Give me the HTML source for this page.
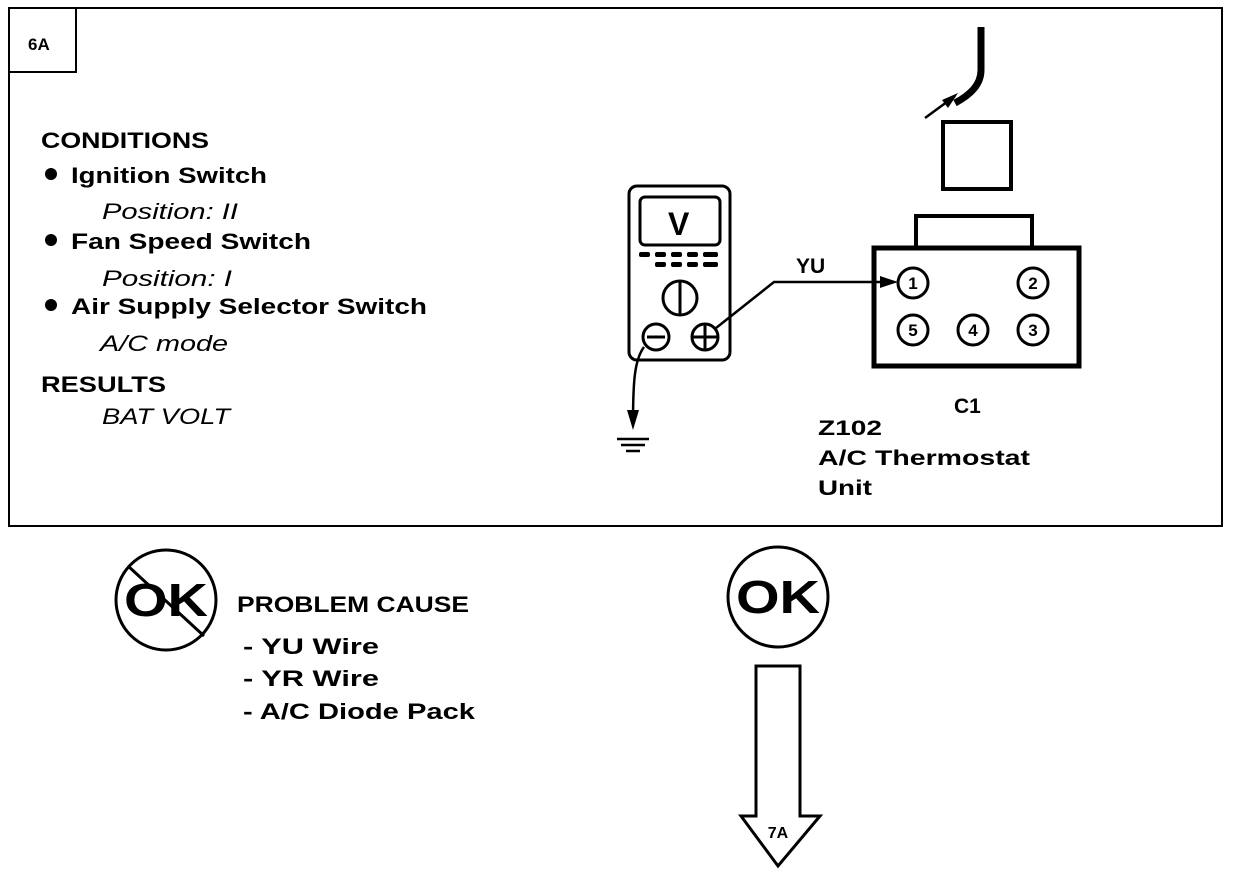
<!DOCTYPE html>
<html><head><meta charset="utf-8"><style>
html,body{margin:0;padding:0;background:#fff;}
svg{display:block;}
text{font-family:"Liberation Sans",Arial,sans-serif;fill:#000;}
.b{font-weight:bold;font-size:22px;}
.i{font-style:italic;font-size:22px;}
</style></head><body>
<svg width="1248" height="874" viewBox="0 0 1248 874" xmlns="http://www.w3.org/2000/svg">
<rect x="9" y="8" width="1213" height="518" fill="none" stroke="#000" stroke-width="2"/>
<rect x="9" y="8" width="67" height="64" fill="none" stroke="#000" stroke-width="2"/>
<text x="28" y="50" class="b" style="font-size:17px">6A</text>

<text x="41" y="148" class="b" textLength="168" lengthAdjust="spacingAndGlyphs">CONDITIONS</text>
<circle cx="51" cy="174" r="6"/>
<text x="71" y="183" class="b" textLength="196" lengthAdjust="spacingAndGlyphs">Ignition Switch</text>
<text x="102" y="219" class="i" textLength="136" lengthAdjust="spacingAndGlyphs">Position: II</text>
<circle cx="51" cy="240" r="6"/>
<text x="71" y="249" class="b" textLength="240" lengthAdjust="spacingAndGlyphs">Fan Speed Switch</text>
<text x="102" y="286" class="i" textLength="130" lengthAdjust="spacingAndGlyphs">Position: I</text>
<circle cx="51" cy="305" r="6"/>
<text x="71" y="314" class="b" textLength="356" lengthAdjust="spacingAndGlyphs">Air Supply Selector Switch</text>
<text x="100" y="351" class="i" textLength="128" lengthAdjust="spacingAndGlyphs">A/C mode</text>
<text x="41" y="392" class="b" textLength="125" lengthAdjust="spacingAndGlyphs">RESULTS</text>
<text x="102" y="424" class="i" textLength="128" lengthAdjust="spacingAndGlyphs">BAT VOLT</text>

<!-- meter -->
<g fill="none" stroke="#000" stroke-width="3">
<rect x="629" y="186" width="101" height="174" rx="8"/>
<rect x="640" y="197" width="80" height="48" rx="5"/>
<circle cx="680" cy="298" r="17"/>
<line x1="680" y1="281" x2="680" y2="315"/>
<circle cx="656" cy="337" r="13"/>
<line x1="647" y1="337" x2="665" y2="337"/>
<circle cx="705" cy="337" r="13"/>
<line x1="692" y1="337" x2="718" y2="337"/><line x1="705" y1="324" x2="705" y2="350"/>
</g>
<text x="668" y="235" class="b" style="font-size:32px">V</text>
<g fill="#000">
<rect x="639" y="252" width="11" height="5" rx="2"/><rect x="655" y="252" width="11" height="5" rx="2"/><rect x="671" y="252" width="11" height="5" rx="2"/><rect x="687" y="252" width="11" height="5" rx="2"/><rect x="703" y="252" width="15" height="5" rx="2"/>
<rect x="655" y="262" width="11" height="5" rx="2"/><rect x="671" y="262" width="11" height="5" rx="2"/><rect x="687" y="262" width="11" height="5" rx="2"/><rect x="703" y="262" width="15" height="5" rx="2"/>
</g>
<!-- wire -->
<polyline points="716,328 774,282 890,282" fill="none" stroke="#000" stroke-width="2.5"/>
<polygon points="898,282 880,276 880,288" fill="#000"/>
<text x="796" y="273" class="b" style="font-size:21px">YU</text>
<!-- ground -->
<path d="M644,347 C634,360 633,385 633,425" fill="none" stroke="#000" stroke-width="2.5"/>
<polygon points="633,430 627,410 639,410" fill="#000"/>
<line x1="617" y1="439" x2="649" y2="439" stroke="#000" stroke-width="2.5"/>
<line x1="621" y1="445" x2="645" y2="445" stroke="#000" stroke-width="2.5"/>
<line x1="626" y1="451" x2="640" y2="451" stroke="#000" stroke-width="2.5"/>

<!-- connector -->
<g fill="none" stroke="#000">
<rect x="874" y="248" width="205" height="118" stroke-width="5"/>
<rect x="916" y="216" width="116" height="32" stroke-width="4"/>
<rect x="943" y="122" width="68" height="67" stroke-width="4"/>
<path d="M981,27 L981,70 C981,85 970,95 955,103" stroke-width="7"/>
<line x1="925" y1="118" x2="955" y2="96" stroke-width="2.5"/>
</g>
<polygon points="958,93 942,100 948,108" fill="#000"/>
<g fill="none" stroke="#000" stroke-width="3">
<circle cx="913" cy="283" r="15"/><circle cx="1033" cy="283" r="15"/>
<circle cx="913" cy="330" r="15"/><circle cx="973" cy="330" r="15"/><circle cx="1033" cy="330" r="15"/>
</g>
<g class="b" style="font-size:17px" text-anchor="middle">
<text x="913" y="289" class="b" style="font-size:17px">1</text>
<text x="1033" y="289" class="b" style="font-size:17px">2</text>
<text x="913" y="336" class="b" style="font-size:17px">5</text>
<text x="973" y="336" class="b" style="font-size:17px">4</text>
<text x="1033" y="336" class="b" style="font-size:17px">3</text>
</g>
<text x="954" y="413" class="b" style="font-size:21px">C1</text>
<text x="818" y="435" class="b" style="font-size:21px" textLength="64" lengthAdjust="spacingAndGlyphs">Z102</text>
<text x="818" y="465" class="b" style="font-size:21px" textLength="212" lengthAdjust="spacingAndGlyphs">A/C Thermostat</text>
<text x="818" y="495" class="b" style="font-size:21px" textLength="54" lengthAdjust="spacingAndGlyphs">Unit</text>

<!-- not OK -->
<circle cx="166" cy="600" r="50" fill="none" stroke="#000" stroke-width="3"/>
<text x="166" y="616" class="b" text-anchor="middle" style="font-size:46px" textLength="84" lengthAdjust="spacingAndGlyphs">OK</text>
<line x1="128" y1="566" x2="204" y2="636" stroke="#000" stroke-width="3"/>
<text x="237" y="612" class="b" textLength="232" lengthAdjust="spacingAndGlyphs">PROBLEM CAUSE</text>
<text x="243" y="654" class="b" textLength="136" lengthAdjust="spacingAndGlyphs">- YU  Wire</text>
<text x="243" y="686" class="b" textLength="136" lengthAdjust="spacingAndGlyphs">- YR  Wire</text>
<text x="243" y="719" class="b" textLength="232" lengthAdjust="spacingAndGlyphs">- A/C Diode Pack</text>

<!-- OK -->
<circle cx="778" cy="597" r="50" fill="none" stroke="#000" stroke-width="3"/>
<text x="778" y="613" class="b" text-anchor="middle" style="font-size:46px" textLength="84" lengthAdjust="spacingAndGlyphs">OK</text>
<polygon points="756,666 800,666 800,816 820,816 778,866 741,816 756,816" fill="none" stroke="#000" stroke-width="3"/>
<text x="778" y="838" class="b" text-anchor="middle" style="font-size:16px">7A</text>
</svg>
</body></html>
